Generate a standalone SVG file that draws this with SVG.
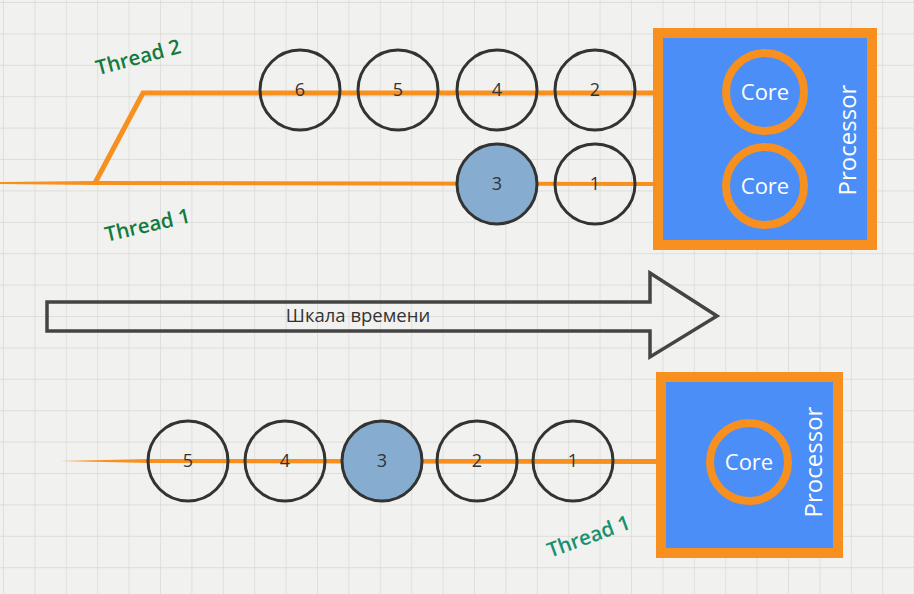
<svg xmlns="http://www.w3.org/2000/svg" width="914" height="594" viewBox="0 0 914 594">
<defs>
<pattern id="grid" x="3" y="2" width="31.4" height="31.4" patternUnits="userSpaceOnUse">
<path d="M0 0 H31.4 M0 0 V31.4" fill="none" stroke="#d6d6d4" stroke-width="1.3"/>
</pattern>
<style>
.bg{fill:#f1f1ef}
.task{fill:none;stroke:#333;stroke-width:3}
.task.active{fill:#86adcf}
.num{font-family:"Open Sans","Liberation Sans",sans-serif;font-size:18px;fill:#333;text-anchor:middle}
.proc{fill:#4b8ef7;stroke:#f7901e;stroke-width:10}
.core{fill:#4b8ef7;stroke:#f7901e;stroke-width:8}
.wt{font-family:"Open Sans","Liberation Sans",sans-serif;fill:#fff;text-anchor:middle}
.thr{stroke:#f7901e;fill:none;stroke-width:5;stroke-linejoin:miter}
.thin{stroke:#f7901e;fill:none;stroke-width:3}
.lbl{font-family:"Open Sans","Liberation Sans",sans-serif;font-weight:600;font-size:20.5px;fill:#137a3c;text-anchor:middle}
</style>
</defs>
<rect class="bg" width="914" height="594"/>
<rect fill="url(#grid)" width="914" height="594"/>

<g id="connectors">
<polyline class="thr" points="95,183 143,93 658,93"/>
<line class="thin" x1="658" y1="93" x2="725" y2="92"/>
<polygon fill="#f7901e" points="0,182 95,181 658,182 658,186 95,185 0,184"/>
<line class="thin" x1="658" y1="185" x2="725" y2="186"/>
<polygon fill="#f7901e" points="60,461 150,459 660,459 660,464 150,463"/>
<line class="thin" x1="660" y1="461" x2="709" y2="462"/>
</g>

<g id="timeline">
<path d="M47 302 H650 V273 L717 316 L650 357 V331 H47 Z" fill="none" stroke="#444" stroke-width="3.5" stroke-linejoin="miter"/>
<text x="358" y="322" font-family="'Open Sans','Liberation Sans',sans-serif" font-size="18.5" fill="#333" text-anchor="middle">Шкала времени</text>
</g>

<g id="processor-top">
<rect class="proc" x="658" y="33" width="214" height="212"/>
<text class="wt" font-size="24" transform="translate(856,140) rotate(-90)">Processor</text>
</g>
<g id="core-top-1">
<circle class="core" cx="765" cy="92" r="39"/>
<text class="wt" font-size="22" x="765" y="100">Core</text>
</g>
<g id="core-top-2">
<circle class="core" cx="765" cy="186" r="39"/>
<text class="wt" font-size="22" x="765" y="194">Core</text>
</g>

<g id="processor-bottom">
<rect class="proc" x="661" y="377" width="177" height="176"/>
<text class="wt" font-size="24" transform="translate(822,462) rotate(-90)">Processor</text>
</g>
<g id="core-bottom">
<circle class="core" cx="749" cy="462" r="39"/>
<text class="wt" font-size="22" x="749" y="470">Core</text>
</g>

<g id="t2-6"><circle class="task" cx="300" cy="90" r="40"/><text class="num" x="300" y="96">6</text></g>
<g id="t2-5"><circle class="task" cx="398" cy="90" r="40"/><text class="num" x="398" y="96">5</text></g>
<g id="t2-4"><circle class="task" cx="497" cy="90" r="40"/><text class="num" x="497" y="96">4</text></g>
<g id="t2-2"><circle class="task" cx="595" cy="90" r="40"/><text class="num" x="595" y="96">2</text></g>
<g id="t1-3"><circle class="task active" cx="497" cy="184" r="40"/><text class="num" x="497" y="190">3</text></g>
<g id="t1-1"><circle class="task" cx="595" cy="184" r="40"/><text class="num" x="595" y="190">1</text></g>

<g id="b-5"><circle class="task" cx="188" cy="461" r="40"/><text class="num" x="188" y="467">5</text></g>
<g id="b-4"><circle class="task" cx="285" cy="461" r="40"/><text class="num" x="285" y="467">4</text></g>
<g id="b-3"><circle class="task active" cx="382" cy="461" r="40"/><text class="num" x="382" y="467">3</text></g>
<g id="b-2"><circle class="task" cx="477" cy="461" r="40"/><text class="num" x="477" y="467">2</text></g>
<g id="b-1"><circle class="task" cx="573" cy="461" r="40"/><text class="num" x="573" y="467">1</text></g>

<g id="labels">
<text class="lbl" transform="translate(140,64) rotate(-15)">Thread 2</text>
<text class="lbl" transform="translate(149,232) rotate(-13)">Thread 1</text>
<text class="lbl" style="fill:#16906e" transform="translate(591,543) rotate(-20)">Thread 1</text>
</g>
</svg>
